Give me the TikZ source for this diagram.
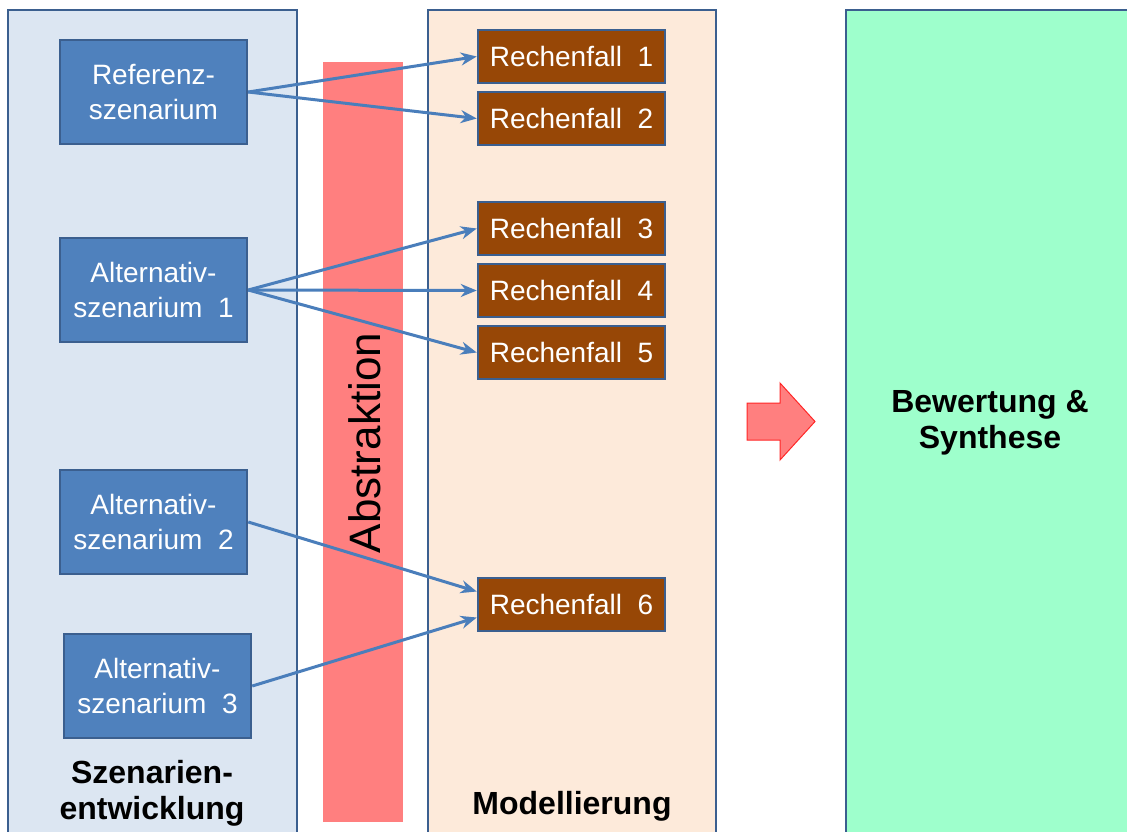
\documentclass[tikz,border=0pt]{standalone}
\usepackage{fontspec}
\setmainfont{Liberation Sans}
\usepackage{tikz}
\usetikzlibrary{arrows.meta}
\definecolor{panelblue}{HTML}{DCE6F2}
\definecolor{panelpeach}{HTML}{FDEADA}
\definecolor{panelmint}{HTML}{9EFFCC}
\definecolor{edgeblue}{HTML}{3B5F8F}
\definecolor{scenblue}{HTML}{4F81BD}
\definecolor{rfbrown}{HTML}{974706}
\definecolor{arrowblue}{HTML}{4A7EBB}
\definecolor{abstrred}{HTML}{FF7F7F}
\tikzset{>={Stealth[length=16pt,width=13pt]}}
\tikzset{
  panel/.style={draw=edgeblue,line width=2.5pt},
  scenbox/.style={draw=edgeblue,line width=2.5pt,fill=scenblue,text=white,
    minimum width=187pt,minimum height=104pt,align=center,inner sep=0pt,
    font=\fontsize{28}{35}\selectfont},
  rfbox/.style={draw=edgeblue,line width=2.5pt,fill=rfbrown,text=white,
    minimum width=187pt,minimum height=53pt,inner sep=0pt,
    font=\fontsize{28}{34}\selectfont},
  link/.style={->,arrowblue,line width=3pt},
  title/.style={align=center,font=\fontsize{32}{36}\selectfont\bfseries}
}

\begin{document}
\begin{tikzpicture}[x=1pt,y=-1pt]
      \useasboundingbox (0,0) rectangle (1127,831);
      \clip (0,0) rectangle (1127,831);
      % columns
      \filldraw[panel,fill=panelblue] (8,10) rectangle (297,860);
      \filldraw[panel,fill=panelpeach] (428,10) rectangle (716,860);
      \filldraw[panel,fill=panelmint] (846,10) rectangle (1160,860);
      \fill[abstrred] (323,62) rectangle (403,822);
      \node[rotate=90,font=\fontsize{44}{48}\selectfont] (abstr) at (365,443) {Abstraktion};
      % scenarios
      \node[scenbox] (ref) at (153.5,92) {Referenz-\\szenarium};
      \node[scenbox] (alt1) at (153.5,290) {Alternativ-\\szenarium\ \ 1};
      \node[scenbox] (alt2) at (153.5,522) {Alternativ-\\szenarium\ \ 2};
      \node[scenbox] (alt3) at (157.5,686) {Alternativ-\\szenarium\ \ 3};
      % cases
      \node[rfbox] (rf1) at (571.5,56.5) {Rechenfall\ \ 1};
      \node[rfbox] (rf2) at (571.5,118.5) {Rechenfall\ \ 2};
      \node[rfbox] (rf3) at (571.5,228.5) {Rechenfall\ \ 3};
      \node[rfbox] (rf4) at (571.5,290.5) {Rechenfall\ \ 4};
      \node[rfbox] (rf5) at (571.5,352.5) {Rechenfall\ \ 5};
      \node[rfbox] (rf6) at (571.5,604.5) {Rechenfall\ \ 6};
      \draw[link] (ref.east) -- (rf1.west);
      \draw[link] (ref.east) -- (rf2.west);
      \draw[link] (alt1.east) -- (rf3.west);
      \draw[link] (alt1.east) -- (rf4.west);
      \draw[link] (alt1.east) -- (rf5.west);
      \draw[link] (alt2.east) -- ([yshift=13pt]rf6.west);
      \draw[link] (alt3.east) -- ([yshift=-13pt]rf6.west);
      % titles
      \node[title] (tscen) at (152,793) {Szenarien-\\entwicklung};
      \node[title] (tmod) at (572,806) {Modellierung};
      \node[title] (tbew) at (990,423) {Bewertung \&\\Synthese};
      % block arrow
      \filldraw[fill=abstrred,draw=red!70!abstrred,line width=1pt]
        (747,403) -- (780,403) -- (780,383) -- (815,421.5) -- (780,460) -- (780,440) -- (747,440) -- cycle;
    \end{tikzpicture}
\end{document}
